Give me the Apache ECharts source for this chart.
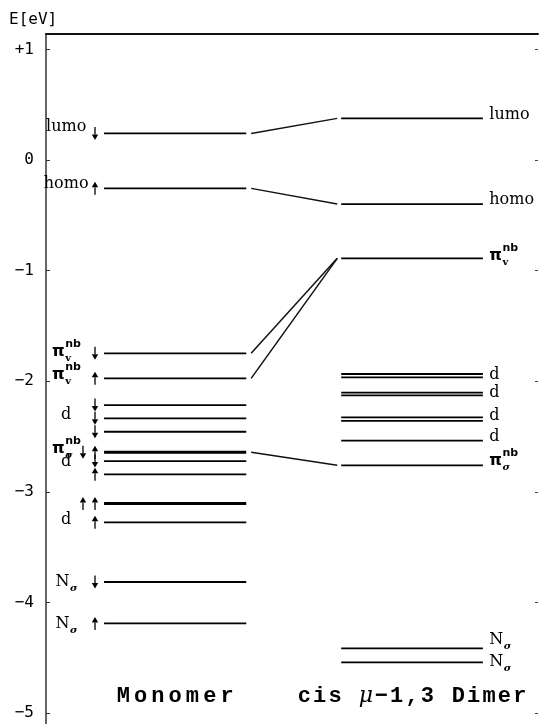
<!DOCTYPE html>
<html>
<head>
<meta charset="utf-8">
<script src="https://cdn.jsdelivr.net/npm/echarts@6/dist/echarts.min.js"></script>
<style>
html, body { margin: 0; padding: 0; background: #fff; }
#chart { width: 539px; height: 724px; }
</style>
</head>
<body>
<div id="chart"></div>
<script>
// energy axis ticks (eV)
var energyTicks = [1, 0, -1, -2, -3, -4, -5];

// monomer levels (eV) and the spin arrows drawn next to them
var monomerLevels = [0.241, -0.256, -1.748, -1.974, -2.216, -2.336, -2.457, -2.643, -2.722, -2.842, -3.105, -3.276, -3.816, -4.190];
var monomerSpin   = ['down', 'up', 'down', 'up', 'down', 'down', 'down', 'up', 'down', 'up', 'up', 'up', 'down', 'up'];
var monomerSpin2  = ['', '', '', '', '', '', '', 'down', '', '', 'up', '', '', ''];

// cis mu-1,3 dimer levels (eV)
var dimerLevels = [0.377, -0.398, -0.889, -1.935, -1.965, -2.104, -2.128, -2.327, -2.358, -2.538, -2.761, -4.416, -4.542];

// monomer level -> dimer level
var correlations = [[0.241, 0.377], [-0.256, -0.398], [-1.748, -0.889], [-1.974, -0.889], [-2.643, -2.761]];

// labels: "text|sub|sup", energy of the label
var monomerLabels = [['lumo', 0.303], ['homo', -0.213], ['π|v|nb', -1.736], ['π|v|nb', -1.944], ['d', -2.306],
                     ['π|σ|nb', -2.613], ['d', -2.73], ['d', -3.255], ['N|σ', -3.816], ['N|σ', -4.196]];
var dimerLabels = [['lumo', 0.411], ['homo', -0.362], ['π|v|nb', -0.868], ['d', -1.944], ['d', -2.107], ['d', -2.315],
                   ['d', -2.505], ['π|σ|nb', -2.722], ['N|σ', -4.341], ['N|σ', -4.54]];

var columnTitles = ['Monomer', 'cis μ−1,3 Dimer'];

// x layout (axis runs 0..100)
var MONO_SPAN = [11.8, 40.7];
var DIMER_SPAN = [60.0, 88.8];
var LINK_SPAN = [41.7, 59.2];
var SPIN_X = [9.96, 7.52];
var MONO_LABEL_X = 4.1;
var DIMER_LABEL_X = 90.1;
var TITLE_E = -4.847;
var TITLE_PITCH = [17.3, 15.4];

var ctx = document.createElement('canvas').getContext('2d');
function textWidth(t, size, family, weight) {
    ctx.font = (weight || 'normal') + ' ' + size + 'px ' + family;
    return ctx.measureText(t).width;
}

var chart = echarts.init(document.getElementById('chart'));

function levelSeries(levels, span, spin2) {
    return {
        type: 'custom',
        silent: true,
        data: levels.map(function (e, i) { return [e, i]; }),
        renderItem: function (params, api) {
            var e = api.value(0);
            var i = api.value(1);
            var a = api.coord([span[0], e]);
            var b = api.coord([span[1], e]);
            return {
                type: 'line',
                shape: { x1: a[0], y1: a[1], x2: b[0], y2: b[1] },
                style: { stroke: '#000', lineWidth: (spin2 && spin2[i]) ? 3 : 1.8 }
            };
        }
    };
}

var linkSeries = {
    type: 'custom',
    silent: true,
    data: correlations.map(function (c) { return [c[0], c[1]]; }),
    renderItem: function (params, api) {
        var a = api.coord([LINK_SPAN[0], api.value(0)]);
        var b = api.coord([LINK_SPAN[1], api.value(1)]);
        return {
            type: 'line',
            shape: { x1: a[0], y1: a[1], x2: b[0], y2: b[1] },
            style: { stroke: '#111', lineWidth: 1.5 }
        };
    }
};

function arrowSeries(levels, spins, xVal) {
    return {
        type: 'custom',
        silent: true,
        data: levels.map(function (e, i) { return [e, i]; }).filter(function (d) { return spins[d[1]]; }),
        renderItem: function (params, api) {
            var p = api.coord([xVal, api.value(0)]);
            var dir = spins[api.value(1)] === 'up' ? -1 : 1;
            var tipY = p[1] + dir * 6.5;
            var tailY = p[1] - dir * 6.5;
            var baseY = tipY - dir * 5.5;
            return {
                type: 'group',
                children: [
                    { type: 'line', shape: { x1: p[0], y1: tailY, x2: p[0], y2: baseY }, style: { stroke: '#000', lineWidth: 1.3 } },
                    { type: 'polygon', shape: { points: [[p[0], tipY], [p[0] - 3.2, baseY], [p[0] + 3.2, baseY]] }, style: { fill: '#000' } }
                ]
            };
        }
    };
}

function labelSeries(labels, xVal, align) {
    return {
        type: 'custom',
        silent: true,
        data: labels.map(function (l, i) { return [l[1], i]; }),
        renderItem: function (params, api) {
            var spec = labels[api.value(1)][0].split('|');
            var p = api.coord([xVal, api.value(0)]);
            var isPi = spec[0] === 'π';
            var mainFam = isPi ? '"DejaVu Sans"' : '"DejaVu Serif"';
            var mainWeight = isPi ? 'bold' : 'normal';
            var mw = textWidth(spec[0], 16, mainFam, mainWeight);
            var sw = Math.max(spec[1] ? textWidth(spec[1], 10, '"DejaVu Serif"', 'bold') : 0,
                              spec[2] ? textWidth(spec[2], 11, '"DejaVu Sans"', 'bold') : 0);
            var x0 = align === 'center' ? p[0] - (mw + sw) / 2 : p[0];
            var kids = [{
                type: 'text', x: x0, y: p[1],
                style: { text: spec[0], fontSize: 16, fontWeight: mainWeight, fontFamily: isPi ? 'DejaVu Sans' : 'DejaVu Serif',
                         fill: '#000', align: 'left', verticalAlign: 'middle' }
            }];
            if (spec[1]) {
                kids.push({
                    type: 'text', x: x0 + mw + 0.5, y: p[1] + 6,
                    style: { text: spec[1], fontSize: 10, fontWeight: 'bold', fontStyle: spec[1] === 'σ' ? 'italic' : 'normal',
                             fontFamily: 'DejaVu Serif', fill: '#000', align: 'left', verticalAlign: 'middle' }
                });
            }
            if (spec[2]) {
                kids.push({
                    type: 'text', x: x0 + mw + 0.5, y: p[1] - 8,
                    style: { text: spec[2], fontSize: 11, fontWeight: 'bold', fontFamily: 'DejaVu Sans',
                             fill: '#000', align: 'left', verticalAlign: 'middle' }
                });
            }
            return { type: 'group', children: kids };
        }
    };
}

var titleSeries = {
    type: 'custom',
    silent: true,
    data: columnTitles.map(function (t, i) { return [i]; }),
    renderItem: function (params, api) {
        var i = api.value(0);
        var span = i === 0 ? MONO_SPAN : DIMER_SPAN;
        var p = api.coord([(span[0] + span[1]) / 2, TITLE_E]);
        var pitch = TITLE_PITCH[i];
        var txt = Array.from(columnTitles[i]).map(function (c) {
            return '{' + (c === 'μ' ? 'm' : 'c') + '|' + c + '}';
        }).join('');
        return {
            type: 'text', x: p[0], y: p[1],
            style: {
                text: txt, align: 'center', verticalAlign: 'middle', fill: '#000',
                rich: {
                    c: { width: pitch, align: 'center', fontSize: 22, fontWeight: 'bold', fontFamily: 'Liberation Mono', fill: '#000' },
                    m: { width: pitch, align: 'center', fontSize: 22, fontStyle: 'italic', fontFamily: 'DejaVu Serif', fill: '#000' }
                }
            }
        };
    }
};

var option = {
    animation: false,
    backgroundColor: '#fff',
    grid: { left: 46, right: 1, top: 34, bottom: 0, containLabel: false },
    graphic: [{
        type: 'text', left: 9, top: 12,
        style: { text: 'E[eV]', fontSize: 16, fontFamily: 'DejaVu Sans Mono', fill: '#000' }
    }],
    xAxis: {
        type: 'value', min: 0, max: 100, position: 'top',
        axisLine: { show: true, onZero: false, lineStyle: { color: '#111', width: 2 } },
        axisTick: { show: false },
        axisLabel: { show: false },
        splitLine: { show: false }
    },
    yAxis: [{
        type: 'value', min: -5.1, max: 1.14, position: 'left',
        axisLine: { show: true, onZero: false, lineStyle: { color: '#333', width: 1.5 } },
        axisTick: { show: true, inside: true, length: 4, customValues: energyTicks, lineStyle: { color: '#333' } },
        axisLabel: {
            customValues: energyTicks, margin: 12, fontSize: 16, fontFamily: 'DejaVu Sans Mono', color: '#000',
            formatter: function (v) { return v > 0 ? '+' + v : (v < 0 ? '−' + Math.abs(v) : '0'); }
        },
        splitLine: { show: false }
    }, {
        type: 'value', min: -5.1, max: 1.14, position: 'right',
        axisLine: { show: false, onZero: false },
        axisTick: { show: true, inside: true, length: 3, customValues: energyTicks, lineStyle: { color: '#444' } },
        axisLabel: { show: false },
        splitLine: { show: false }
    }],
    series: [
        levelSeries(monomerLevels, MONO_SPAN, monomerSpin2),
        levelSeries(dimerLevels, DIMER_SPAN, null),
        linkSeries,
        arrowSeries(monomerLevels, monomerSpin, SPIN_X[0]),
        arrowSeries(monomerLevels, monomerSpin2, SPIN_X[1]),
        labelSeries(monomerLabels, MONO_LABEL_X, 'center'),
        labelSeries(dimerLabels, DIMER_LABEL_X, 'left'),
        titleSeries
    ]
};

chart.setOption(option);
</script>
</body>
</html>
